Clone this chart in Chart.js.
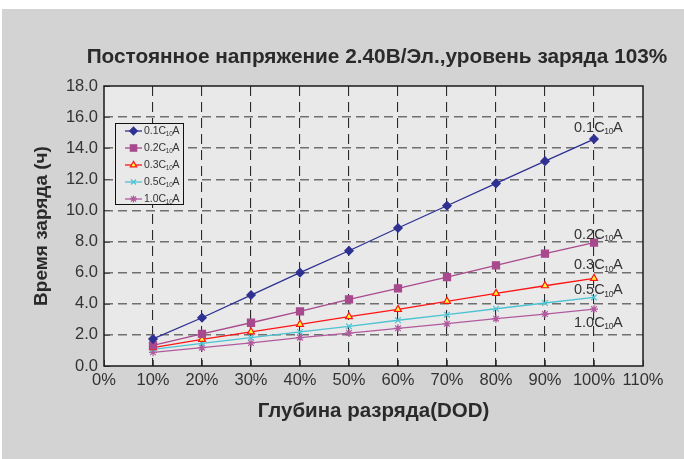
<!DOCTYPE html>
<html><head><meta charset="utf-8">
<script src="https://cdn.jsdelivr.net/npm/chart.js@4"></script>
<style>html,body{margin:0;padding:0;background:#fff;}#wrap{width:684px;height:459px;}</style>
</head><body><div id="wrap"><canvas id="c" width="684" height="459"></canvas></div>
<script>
// ---------- data ----------
const dodPercent = [10, 20, 30, 40, 50, 60, 70, 80, 90, 100];
const rates = ['0.1', '0.2', '0.3', '0.5', '1.0'];
const charge01C = [1.74, 3.10, 4.56, 6.00, 7.41, 8.87, 10.30, 11.74, 13.17, 14.59];
const charge02C = [1.33, 2.06, 2.78, 3.51, 4.28, 4.99, 5.72, 6.47, 7.22, 7.93];
const charge03C = [1.18, 1.71, 2.20, 2.68, 3.17, 3.64, 4.16, 4.67, 5.16, 5.63];
const charge05C = [1.07, 1.46, 1.82, 2.19, 2.55, 2.94, 3.30, 3.68, 4.05, 4.41];
const charge10C = [0.88, 1.18, 1.48, 1.82, 2.12, 2.42, 2.72, 3.04, 3.34, 3.66];
const xTickLabels = ['0%', '10%', '20%', '30%', '40%', '50%', '60%', '70%', '80%', '90%', '100%', '110%'];
const yTickLabels = ['0.0', '2.0', '4.0', '6.0', '8.0', '10.0', '12.0', '14.0', '16.0', '18.0'];
const chartTitle = 'Постоянное напряжение 2.40В/Эл.,уровень заряда 103%';
const xTitle = 'Глубина разряда(DOD)';
const yTitle = 'Время заряда (ч)';

// ---------- styles ----------
const FONT = '"Liberation Sans", Arial, sans-serif';
const seriesValues = [charge01C, charge02C, charge03C, charge05C, charge10C];
const seriesStyle = [
  {color: '#2e3192', fill: '#2e3192', point: 'rectRot', r: 4.2, labelDy: -11},
  {color: '#a8498e', fill: '#a8498e', point: 'rect', r: 5, labelDy: -8},
  {color: '#ff1414', fill: '#ffff30', point: 'triangle', r: 4, labelDy: -13},
  {color: '#4cc3d2', fill: '#4cc3d2', point: 'crossRot', r: 4, labelDy: -7},
  {color: '#b25a9e', fill: '#b25a9e', point: 'star', r: 4, labelDy: 14}
];

const datasets = rates.map((rate, i) => ({
  label: rate + 'C₁₀A',
  rate: rate,
  data: dodPercent.map((x, j) => ({x: x, y: seriesValues[i][j]})),
  borderColor: seriesStyle[i].color,
  backgroundColor: seriesStyle[i].fill,
  pointBorderColor: seriesStyle[i].color,
  pointBackgroundColor: seriesStyle[i].fill,
  pointStyle: seriesStyle[i].point,
  pointRadius: seriesStyle[i].r,
  pointBorderWidth: 1.2,
  borderWidth: 1.3,
  tension: 0
}));

function drawRateText(ctx, x, y, rate, size, subSize, color) {
  ctx.save();
  ctx.fillStyle = color;
  ctx.textBaseline = 'middle';
  ctx.textAlign = 'left';
  ctx.font = size + 'px ' + FONT;
  const main = rate + 'C';
  ctx.fillText(main, x, y);
  let w = ctx.measureText(main).width;
  ctx.font = subSize + 'px ' + FONT;
  ctx.fillText('10', x + w - 0.5, y + size * 0.28);
  w += ctx.measureText('10').width - 1;
  ctx.font = size + 'px ' + FONT;
  ctx.fillText('A', x + w, y);
  ctx.restore();
}

const decorPlugin = {
  id: 'decor',
  beforeDraw(chart) {
    const {ctx, chartArea: a} = chart;
    ctx.save();
    ctx.fillStyle = '#ffffff';
    ctx.fillRect(0, 0, chart.width, chart.height);
    ctx.fillStyle = '#d3d3d3';
    ctx.fillRect(2, 9, chart.width - 2, chart.height - 9);
    ctx.fillStyle = '#e9e9e9';
    ctx.fillRect(a.left, a.top, a.right - a.left, a.bottom - a.top);
    // title
    ctx.fillStyle = '#2a2a2a';
    ctx.font = 'bold 20.8px ' + FONT;
    ctx.textAlign = 'center';
    ctx.textBaseline = 'middle';
    ctx.fillText(chartTitle, 377, 57);
    ctx.restore();
  },
  afterDatasetsDraw(chart) {
    const {ctx, chartArea: a, scales} = chart;
    ctx.save();
    // inward tick marks
    ctx.strokeStyle = '#555';
    ctx.lineWidth = 1;
    xTickLabels.forEach((t, i) => {
      const px = Math.round(scales.x.getPixelForValue(i * 10)) + 0.5;
      ctx.beginPath(); ctx.moveTo(px, a.bottom); ctx.lineTo(px, a.bottom - 6); ctx.stroke();
    });
    yTickLabels.forEach((t, i) => {
      const py = Math.round(scales.y.getPixelForValue(i * 2)) + 0.5;
      ctx.beginPath(); ctx.moveTo(a.left, py); ctx.lineTo(a.left + 6, py); ctx.stroke();
    });
    // plot border
    ctx.strokeStyle = '#1a1a1a';
    ctx.lineWidth = 1.5;
    ctx.strokeRect(a.left, a.top, a.right - a.left, a.bottom - a.top);

    // end labels
    chart.data.datasets.forEach((ds, i) => {
      const last = ds.data[ds.data.length - 1];
      const px = scales.x.getPixelForValue(last.x);
      const py = scales.y.getPixelForValue(last.y);
      drawRateText(ctx, px - 20, py + seriesStyle[i].labelDy, ds.rate, 14.5, 8.5, '#333');
    });

    // legend
    const lx = 115, ly = 123, lw = 68, lh = 81;
    ctx.fillStyle = '#e9e9e9';
    ctx.fillRect(lx, ly, lw, lh);
    ctx.strokeStyle = '#111';
    ctx.lineWidth = 1;
    ctx.strokeRect(lx + 0.5, ly + 0.5, lw, lh);
    chart.data.datasets.forEach((ds, i) => {
      const y = ly + 8 + i * 17;
      ctx.strokeStyle = seriesStyle[i].color;
      ctx.lineWidth = 1.3;
      ctx.beginPath(); ctx.moveTo(lx + 10, y); ctx.lineTo(lx + 27, y); ctx.stroke();
      ctx.fillStyle = seriesStyle[i].fill;
      ctx.strokeStyle = seriesStyle[i].color;
      ctx.lineWidth = 1.2;
      Chart.helpers.drawPoint(ctx, {pointStyle: seriesStyle[i].point, radius: seriesStyle[i].r * 0.9, borderWidth: 1.2, rotation: 0}, lx + 18.5, y);
      drawRateText(ctx, lx + 29, y, ds.rate, 10.5, 6.5, '#333');
    });
    ctx.restore();
  }
};

new Chart(document.getElementById('c'), {
  type: 'line',
  data: {datasets: datasets},
  plugins: [decorPlugin],
  options: {
    responsive: false,
    devicePixelRatio: 1,
    animation: false,
    layout: {padding: {left: 2, top: 86, right: 41, bottom: 0}},
    plugins: {legend: {display: false}, title: {display: false}, tooltip: {enabled: false}},
    scales: {
      x: {
        type: 'linear', min: 0, max: 110,
        afterFit(s) { s.height = 93; },
        afterBuildTicks(s) { s.ticks = xTickLabels.map((t, i) => ({value: i * 10})); },
        ticks: {
          callback: (v, i) => xTickLabels[i],
          color: '#333', padding: 5, maxRotation: 0, autoSkip: false,
          font: {family: FONT, size: 16.5}
        },
        grid: {
          drawTicks: false,
          color: c => (c.tick && (c.tick.value === 0 || c.tick.value === 110)) ? 'rgba(0,0,0,0)' : '#2a2a2a',
          lineWidth: 1.1
        },
        border: {display: false, dash: [10, 6]},
        title: {display: true, text: xTitle, color: '#2a2a2a', font: {family: FONT, size: 20.5, weight: 'bold'}, padding: {top: 0, bottom: 35.7}}
      },
      y: {
        type: 'linear', min: 0, max: 18,
        afterFit(s) { s.width = 102; },
        afterBuildTicks(s) { s.ticks = yTickLabels.map((t, i) => ({value: i * 2})); },
        ticks: {
          callback: (v, i) => yTickLabels[i],
          color: '#333', padding: 6,
          font: {family: FONT, size: 16.5}
        },
        grid: {
          drawTicks: false,
          color: c => (c.tick && (c.tick.value === 0 || c.tick.value === 18)) ? 'rgba(0,0,0,0)' : '#707070',
          lineWidth: 1.6
        },
        border: {display: false, dash: [9, 5]},
        title: {display: true, text: yTitle, color: '#2a2a2a', font: {family: FONT, size: 19, weight: 'bold'}, padding: {top: 28.4, bottom: 0}}
      }
    }
  }
});
</script>
</body></html>
